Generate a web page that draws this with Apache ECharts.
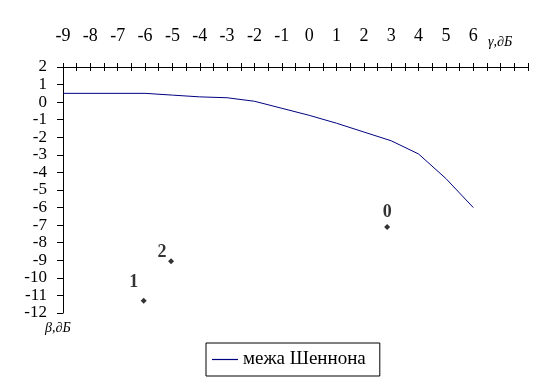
<!DOCTYPE html>
<html><head><meta charset="utf-8">
<script src="https://cdn.jsdelivr.net/npm/echarts@6/dist/echarts.min.js"></script>
<style>html,body{margin:0;padding:0;background:#fff}#c{width:554px;height:384px}</style>
</head><body><div id="c"></div>
<script>
const gammaValues = [-9, -6, -5, -4, -3, -2, -1, 0, 1, 2, 3, 4, 5, 6];
const shannonBeta = [0.5, 0.5, 0.4, 0.3, 0.25, 0.05, -0.35, -0.75, -1.2, -1.7, -2.2, -2.95, -4.35, -6.0];
const pointNames = ['0', '1', '2'];
const pointGamma = [2.85, -6.05, -5.05];
const pointBeta = [-7.1, -11.3, -9.05];
const seriesName = 'межа Шеннона';
const xAxisTitle = 'γ,∂Б';
const yAxisTitle = 'β,∂Б';

const font = '"Liberation Serif", "Times New Roman", serif';
const labelOffsets = {'0': [0, -15], '1': [-10, -18], '2': [-9, -9]};

const chart = echarts.init(document.getElementById('c'));
const xBase = {
  type: 'value', min: -9, max: 8, interval: 0.5, position: 'top',
  splitLine: {show: false},
  axisLine: {onZero: false, lineStyle: {color: '#000', width: 1}},
};
chart.setOption({
  animation: false,
  grid: {left: 63, right: 26, top: 67, bottom: 71},
  xAxis: [
    Object.assign({}, xBase, {
      axisTick: {inside: false, length: 4, lineStyle: {color: '#000'}},
      axisLabel: {
        margin: 22, color: '#000', fontFamily: font, fontSize: 18,
        showMinLabel: true, hideOverlap: false,
        formatter: v => (Number.isInteger(v) && v <= 6) ? String(v) : ''
      }
    }),
    Object.assign({}, xBase, {
      axisTick: {inside: true, length: 4, lineStyle: {color: '#000'}},
      axisLabel: {show: false}
    })
  ],
  yAxis: {
    type: 'value', min: -12, max: 2, interval: 1,
    splitLine: {show: false},
    axisLine: {show: true, onZero: false, lineStyle: {color: '#000', width: 1}},
    axisTick: {show: true, length: 6, lineStyle: {color: '#000'}},
    axisLabel: {margin: 16, color: '#000', fontFamily: font, fontSize: 17,
      showMinLabel: true, showMaxLabel: true, hideOverlap: false}
  },
  legend: {
    data: [seriesName], left: 206, top: 343,
    borderColor: '#000', borderWidth: 1, borderRadius: 0,
    padding: [7, 14, 7, 6],
    icon: 'rect', itemWidth: 26, itemHeight: 1.2, itemGap: 4,
    textStyle: {color: '#000', fontFamily: font, fontSize: 19}
  },
  graphic: [
    {type: 'text', left: 488, top: 35, style: {text: xAxisTitle, fontFamily: font, fontStyle: 'italic', fontSize: 14, fill: '#000'}},
    {type: 'text', left: 45, top: 321, style: {text: yAxisTitle, fontFamily: font, fontStyle: 'italic', fontSize: 14, fill: '#000'}}
  ],
  series: [
    {
      name: seriesName, type: 'line', showSymbol: false, symbol: 'none',
      lineStyle: {color: '#000080', width: 1}, itemStyle: {color: '#000080'},
      data: gammaValues.map((g, i) => [g, shannonBeta[i]])
    },
    {
      name: 'points', type: 'scatter', symbol: 'diamond', symbolSize: 6,
      itemStyle: {color: '#000'},
      data: pointNames.map((n, i) => ({
        name: n, value: [pointGamma[i], pointBeta[i]],
        label: {show: true, position: 'inside', offset: labelOffsets[n], formatter: '{b}',
          color: '#000', fontFamily: font, fontWeight: 'bold', fontSize: 18}
      }))
    }
  ]
});
</script></body></html>
